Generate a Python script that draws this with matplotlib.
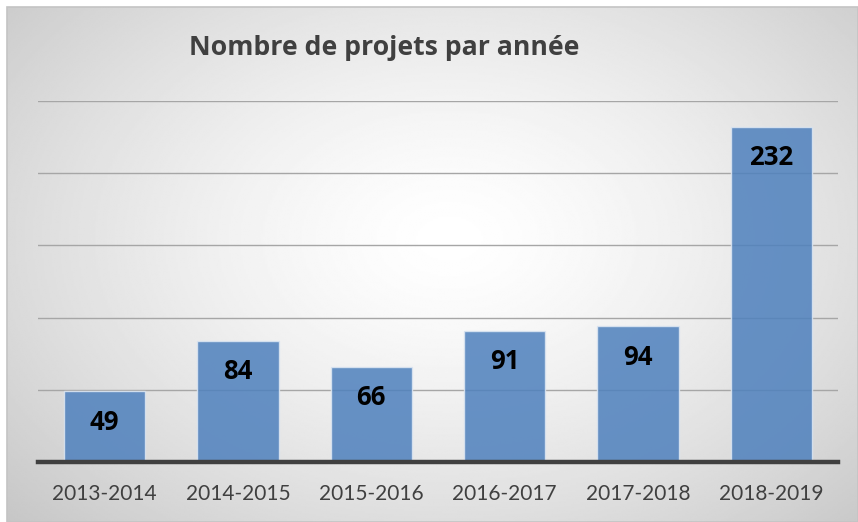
import numpy as np
import matplotlib.pyplot as plt

plt.rcParams['font.family'] = ['Lato', 'DejaVu Sans']

annees = ['2013-2014', '2014-2015', '2015-2016', '2016-2017', '2017-2018', '2018-2019']
projets = [49, 84, 66, 91, 94, 232]
titre = 'Nombre de projets par année'

W, H = 858, 522
fig = plt.figure(figsize=(W / 100, H / 100), dpi=100)

# radial gradient background (white centre, grey edges)
bg = fig.add_axes([7 / W, 0, 1 - 7 / W, 1 - 7 / H], zorder=-10)
yy, xx = np.mgrid[0:1:300j, 0:1:500j]
d = np.sqrt(((xx - 0.52) / 0.75) ** 2 + ((yy - 0.45) / 0.85) ** 2)
shade = 1 - 0.24 * np.clip(d, 0, 1) ** 1.4
bg.imshow(shade, cmap='gray', vmin=0, vmax=1, aspect='auto',
          extent=[0, 1, 0, 1], origin='upper', interpolation='bilinear')
bg.set_axis_off()
fig.patches.append(plt.Rectangle((7 / W, 0), 1 - 7 / W, 1 - 7 / H,
                                 transform=fig.transFigure, fill=False,
                                 edgecolor='#c4c4c4', linewidth=1.2, zorder=5))

ax = fig.add_axes([38 / W, 60 / H, 800 / W, (462 - 101) / H])
ax.patch.set_alpha(0)
x = np.arange(len(annees))
bars = ax.bar(x, projets, width=0.61, color='#4f81bd', alpha=0.86,
              edgecolor='#dce6f2', linewidth=1.0, zorder=3)

ax.set_xlim(-0.5, len(annees) - 0.5)
ax.set_ylim(0, 250)
ax.set_yticks(np.arange(50, 251, 50))
ax.yaxis.grid(True, color='#a6a6a6', linewidth=1.0, zorder=1)
ax.set_axisbelow(True)
ax.tick_params(axis='y', left=False, labelleft=False)
ax.tick_params(axis='x', bottom=False, labelsize=15, labelcolor='#404040', pad=12)
ax.set_xticks(x)
ax.set_xticklabels(annees)
for s in ['top', 'right', 'left']:
    ax.spines[s].set_visible(False)
ax.spines['bottom'].set_color('#404040')
ax.spines['bottom'].set_linewidth(3.2)
ax.spines['bottom'].set_zorder(4)

# value labels 31 px below each bar top
for xi, v in zip(x, projets):
    ax.annotate(str(v), (xi, v), xytext=(0, -31 * 0.72), textcoords='offset points',
                ha='center', va='center', fontsize=18.5, fontweight='bold',
                family=['Open Sans', 'DejaVu Sans'], color='black', zorder=5)

fig.text(384 / W, 1 - 48 / H, titre, ha='center', va='center',
         fontsize=19.2, fontweight='bold', family=['Open Sans', 'DejaVu Sans'],
         color='#404040')

fig.savefig('out.png', dpi=100)
